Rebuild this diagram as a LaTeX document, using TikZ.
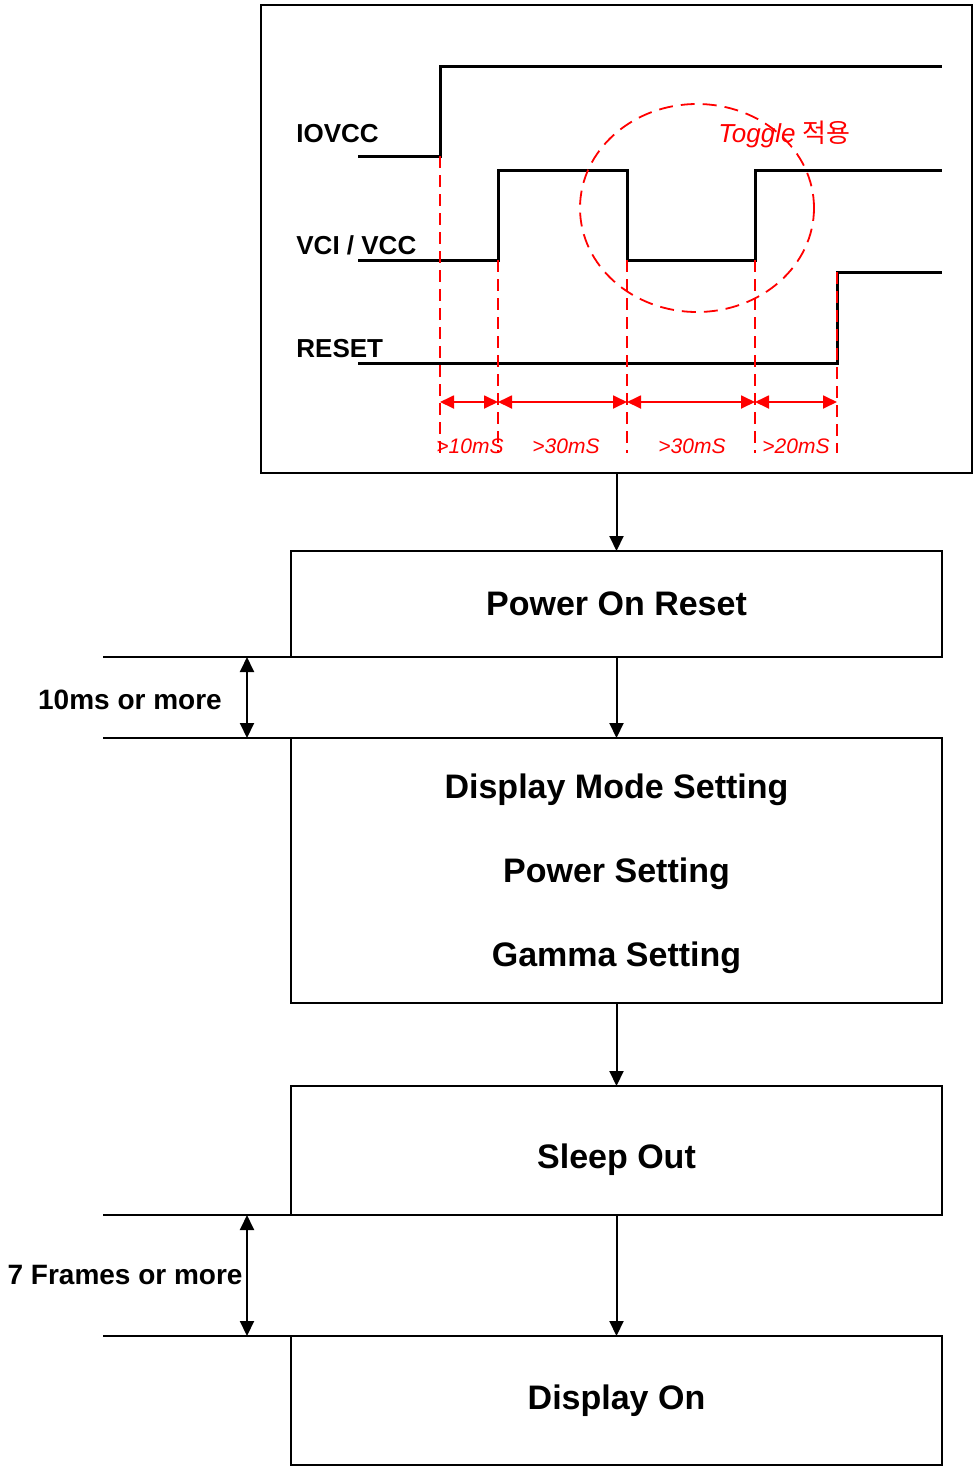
\documentclass[tikz,border=0pt]{standalone}
\usepackage{fontspec}
\setmainfont{Liberation Sans}
\newfontfamily\krfont{Noto Sans CJK KR}
\usetikzlibrary{arrows.meta}

\tikzset{
  sig/.style={line width=1.5pt},
  guide/.style={red, line width=0.9pt, dash pattern=on 6pt off 3.5pt},
  span/.style={red, line width=0.9pt, {Triangle[length=7pt,width=6.5pt]}-{Triangle[length=7pt,width=6.5pt]}},
  stepbox/.style={draw, line width=1pt, minimum width=325.5pt, anchor=north, inner sep=0pt, outer sep=0pt,
    align=center, font=\fontsize{17}{20}\selectfont\bfseries},
  sidelbl/.style={font=\fontsize{14}{16}\selectfont\bfseries},
  siglbl/.style={anchor=base west, inner sep=0pt, font=\fontsize{13}{15}\selectfont\bfseries},
  timelbl/.style={anchor=base, red, font=\fontsize{10.5}{12}\selectfont\itshape},
}

\begin{document}
\begin{tikzpicture}[x=0.5pt, y=-0.5pt, >={Triangle[length=7.5pt,width=7pt]}]
	\useasboundingbox (0,0) rectangle (977,1473);

	% 1. 时序图外框
	\node[draw, line width=1pt, minimum width=355.5pt, minimum height=234pt,
	      anchor=north west, inner sep=0pt, outer sep=0pt] (frame) at (261,5) {};

	% 2. 信号跳变点
	\coordinate (E1) at (440,156);
	\coordinate (E2) at (498,260);
	\coordinate (E3) at (627,260);
	\coordinate (E4) at (755,260);
	\coordinate (E5) at (837,272);
	\coordinate (lev) at (0,402);
	\coordinate (bot) at (0,453);

	% 3. 信号波形
	\draw[sig] (358,156) -- (E1) -- (440,66) -- (942,66);
	\draw[sig] (358,260) -- (E2) -- (498,170) -- (627,170) -- (E3) -- (E4) -- (755,170) -- (942,170);
	\draw[sig] (358,363) -- (837,363) -- (E5) -- (942,272);

	\node[siglbl] (iovcc) at (296,142) {IOVCC};
	\node[siglbl] (vci) at (296,254) {VCI / VCC};
	\node[siglbl] (reset) at (296,357) {RESET};

	% 4. 红色辅助线与时间间隔
	\foreach \e in {E1,E2,E3,E4,E5}
		\draw[guide] (\e) -- (\e |- bot);
	\draw[span] (E1 |- lev) -- (E2 |- lev);
	\draw[span] (E2 |- lev) -- (E3 |- lev);
	\draw[span] (E3 |- lev) -- (E4 |- lev);
	\draw[span] (E4 |- lev) -- (E5 |- lev);

	\node[timelbl] (d1) at (470,453) {>10mS};
	\node[timelbl] (d2) at (566,453) {>30mS};
	\node[timelbl] (d3) at (692,453) {>30mS};
	\node[timelbl] (d4) at (796,453) {>20mS};

	% 5. Toggle 区域
	\draw[red, line width=0.9pt, dash pattern=on 7pt off 4pt] (697,208) ellipse [x radius=58.5pt, y radius=52pt];
	\node[anchor=base west, red, inner sep=0pt, font=\fontsize{13}{15}\selectfont] (tgl) at (718,142)
		{\textit{Toggle} {\krfont 적용}};

	% 6. 流程框
	\node[stepbox, minimum height=53pt] (por) at (616.5,551) {Power On Reset};
	\node[stepbox, minimum height=132.5pt] (mode) at (616.5,738)
		{\rule{0pt}{15.5pt}Display Mode Setting\\[22pt]Power Setting\\[22pt]Gamma Setting};
	\node[stepbox, minimum height=64.5pt] (sleep) at (616.5,1086) {\raisebox{-8.8pt}[0pt][0pt]{Sleep Out}};
	\node[stepbox, minimum height=64.5pt] (dispon) at (616.5,1336) {Display On};

	\draw[->, line width=1pt] (frame.south) -- (por.north);
	\draw[->, line width=1pt] (por) -- (mode);
	\draw[->, line width=1pt] (mode) -- (sleep);
	\draw[->, line width=1pt] (sleep) -- (dispon);

	% 7. 间隔标注
	\coordinate (gapA1) at (103,657);
	\coordinate (gapA2) at (103,738);
	\coordinate (gapB1) at (103,1215);
	\coordinate (gapB2) at (103,1336);
	\draw[line width=1pt] (gapA1) -- (por.south west);
	\draw[line width=1pt] (gapA2) -- (mode.north west);
	\draw[line width=1pt] (gapB1) -- (sleep.south west);
	\draw[line width=1pt] (gapB2) -- (dispon.north west);

	\coordinate (dimA1) at (247,657);
	\coordinate (dimA2) at (247,738);
	\coordinate (dimB1) at (247,1215);
	\coordinate (dimB2) at (247,1336);
	\draw[<->, line width=1pt] (dimA1) -- (dimA2);
	\draw[<->, line width=1pt] (dimB1) -- (dimB2);

	\node[sidelbl] (gapAlbl) at (130,700) {10ms or more};
	\node[sidelbl, anchor=east, inner sep=0pt] (gapBlbl) at (243,1275) {7 Frames or more};
\end{tikzpicture}
\end{document}
